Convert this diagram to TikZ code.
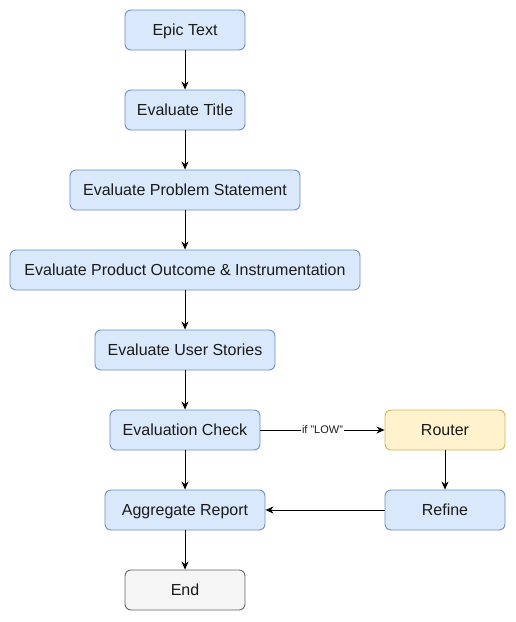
\documentclass[tikz,border=0pt]{standalone}
\usepackage{fontspec}
\setmainfont{Liberation Sans}
\usetikzlibrary{arrows.meta}
\definecolor{bfill}{HTML}{DAE8FC}
\definecolor{bdraw}{HTML}{6C8EBF}
\definecolor{yfill}{HTML}{FFF2CC}
\definecolor{ydraw}{HTML}{D6B656}
\definecolor{gfill}{HTML}{F5F5F5}
\definecolor{gdraw}{HTML}{666666}
\definecolor{txt}{HTML}{1A1A1A}
\begin{document}
\begin{tikzpicture}[x=1pt,y=-1pt,
  box/.style={draw=bdraw,fill=bfill,rounded corners=6pt,line width=0.9pt,
    minimum height=40pt,inner sep=0pt,font=\fontsize{16}{18}\selectfont,text=txt,
    text height=13pt,text depth=2pt},
  ybox/.style={box,draw=ydraw,fill=yfill},
  gbox/.style={box,draw=gdraw,fill=gfill},
  arr/.style={line width=0.9pt,-{Stealth[length=8pt,width=7pt,inset=2.5pt]}},
  lbl/.style={fill=white,inner sep=1pt,font=\fontsize{11}{13}\selectfont,text=txt}]
\useasboundingbox (0,0) rectangle (516,622);
\node[box,minimum width=120pt] (epic) at (185,30) {Epic Text};
\node[box,minimum width=120pt] (title) at (185,110) {Evaluate Title};
\node[box,minimum width=230pt] (prob) at (185,190) {Evaluate Problem Statement};
\node[box,minimum width=350pt] (prod) at (185,270) {Evaluate Product Outcome \& Instrumentation};
\node[box,minimum width=180pt] (user) at (185,350) {Evaluate User Stories};
\node[box,minimum width=150pt] (check) at (185,430) {Evaluation Check};
\node[ybox,minimum width=120pt] (router) at (445,430) {Router};
\node[box,minimum width=160pt] (agg) at (185,510) {Aggregate Report};
\node[box,minimum width=120pt] (refine) at (445,510) {Refine};
\node[gbox,minimum width=120pt] (end) at (185,590) {End};
\draw[arr] (epic) -- (title);
\draw[arr] (title) -- (prob);
\draw[arr] (prob) -- (prod);
\draw[arr] (prod) -- (user);
\draw[arr] (user) -- (check);
\draw[arr] (check) -- node[lbl] {if "LOW"} (router);
\draw[arr] (check) -- (agg);
\draw[arr] (router) -- (refine);
\draw[arr] (refine) -- (agg);
\draw[arr] (agg) -- (end);
\end{tikzpicture}
\end{document}
